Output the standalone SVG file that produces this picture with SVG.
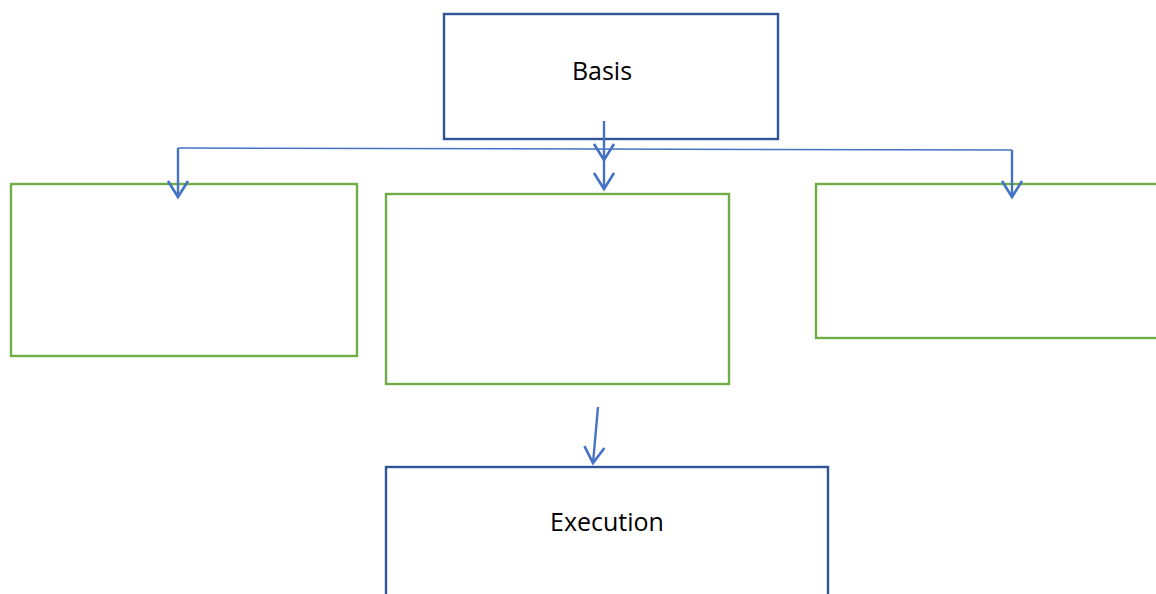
<svg xmlns="http://www.w3.org/2000/svg" width="1156" height="594" viewBox="0 0 1156 594">
<style>
.dark{fill:#fff;stroke:#2F5597;stroke-width:2.4}
.green{fill:#fff;stroke:#70AD47;stroke-width:2.4}
.lbl{font-family:"Open Sans","Noto Sans",sans-serif;font-size:25px;fill:#000;text-anchor:middle}
.c{fill:none;stroke:#4472C4;stroke-width:2.4}
.thin{fill:none;stroke:#4472C4;stroke-width:1.5}
</style>
<defs>
<marker id="a" markerUnits="userSpaceOnUse" markerWidth="40" markerHeight="40" viewBox="-20 -20 40 40" refX="0" refY="0" orient="auto">
<path d="M-16,-10 L0,0 L-16,10" fill="none" stroke="#4472C4" stroke-width="2.6"/>
</marker>
</defs>
<g id="basis"><rect class="dark" x="444" y="14" width="334" height="125"/><text class="lbl" x="602" y="80">Basis</text></g>
<g id="box-left"><rect class="green" x="11" y="184" width="346" height="172"/></g>
<g id="box-middle"><rect class="green" x="386" y="194" width="343" height="190"/></g>
<g id="box-right"><rect class="green" x="816" y="184" width="350" height="154"/></g>
<g id="execution"><rect class="dark" x="386" y="467" width="442" height="140"/><text class="lbl" x="607" y="531">Execution</text></g>
<g id="connectors">
<path class="thin" d="M178,148 L1012,150"/>
<path class="c" d="M178,148 L178,197" marker-end="url(#a)"/>
<path class="c" d="M1012,150 L1012,197" marker-end="url(#a)"/>
<path class="c" d="M604,121 L604,160" marker-end="url(#a)"/>
<path class="c" d="M604,160 L604,189" marker-end="url(#a)"/>
<path class="c" d="M598,407 L593,463" marker-end="url(#a)"/>
</g>
</svg>
